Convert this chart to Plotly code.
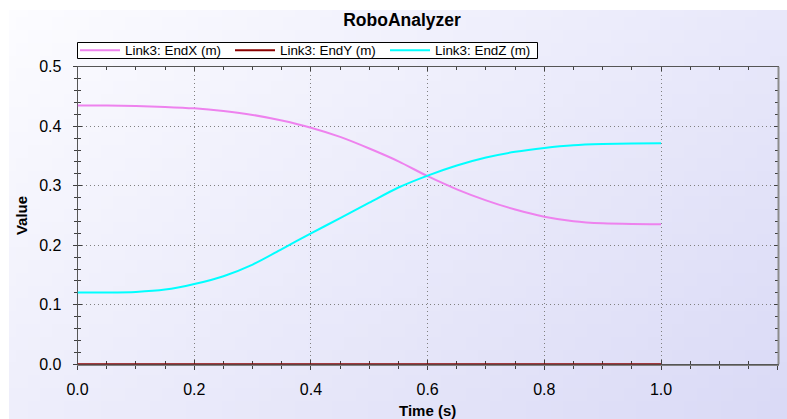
import zlib, struct, base64
import plotly.graph_objects as go

# ---- data ----
time_s = [0.00, 0.05, 0.10, 0.15, 0.20, 0.25, 0.30, 0.35, 0.40, 0.45, 0.50,
          0.55, 0.60, 0.65, 0.70, 0.75, 0.80, 0.85, 0.90, 0.95, 1.00]
end_x = [0.435, 0.4348, 0.434, 0.4325, 0.430, 0.4255, 0.419, 0.4095, 0.3975, 0.382, 0.3625,
         0.341, 0.316, 0.294, 0.2755, 0.260, 0.248, 0.2405, 0.237, 0.2358, 0.2355]
end_y = [0.0] * 21
end_z = [0.1205, 0.1205, 0.1215, 0.1255, 0.135, 0.148, 0.1675, 0.1935, 0.220, 0.2455, 0.2715,
         0.297, 0.317, 0.334, 0.3475, 0.357, 0.3635, 0.368, 0.370, 0.371, 0.3712]
series_names = ["Link3: EndX (m)", "Link3: EndY (m)", "Link3: EndZ (m)"]
x_ticks = [0.0, 0.2, 0.4, 0.6, 0.8, 1.0, 1.2]
y_ticks = [0.0, 0.1, 0.2, 0.3, 0.4, 0.5]

W, H = 787, 419


def gradient_png(w, h):
    rows = []
    for j in range(h):
        v = j / (h - 1)
        row = bytearray([0])
        for i in range(w):
            u = i / (w - 1)
            r = int(round(252 - 20 * u - 14 * v))
            b = int(round(255 - 5 * u - 4 * v))
            row += bytes([r, r, b])
        rows.append(bytes(row))
    raw = b"".join(rows)

    def chunk(t, d):
        c = struct.pack(">I", len(d)) + t + d
        return c + struct.pack(">I", zlib.crc32(t + d) & 0xffffffff)
    png = b"\x89PNG\r\n\x1a\n" + chunk(b"IHDR", struct.pack(">IIBBBBB", w, h, 8, 2, 0, 0, 0))
    png += chunk(b"IDAT", zlib.compress(raw, 9)) + chunk(b"IEND", b"")
    return "data:image/png;base64," + base64.b64encode(png).decode()


FONT = "Liberation Sans, Arial, sans-serif"
x0, x1 = 77.6 / W, 777.7 / W
y0, y1 = (H - 364.3) / H, (H - 66.7) / H

fig = go.Figure()
fig.add_trace(go.Scatter(x=time_s, y=end_x, mode="lines", name=series_names[0],
                         line=dict(color="#EE82EE", width=2, shape="spline", smoothing=0.8)))
fig.add_trace(go.Scatter(x=time_s, y=end_y, mode="lines", name=series_names[1],
                         line=dict(color="#8B0000", width=2), cliponaxis=False,
                         xaxis="x2", yaxis="y2"))
fig.add_trace(go.Scatter(x=time_s, y=end_z, mode="lines", name=series_names[2],
                         line=dict(color="#00FFFF", width=2, shape="spline", smoothing=0.8)))

grid = dict(showgrid=True, gridcolor="#808080", griddash="1px,3px", gridwidth=1)
tick_font = dict(family=FONT, size=16, color="#000")
title_font = dict(family=FONT, size=15, color="#000")
AX = "#555555"

fig.update_layout(
    width=W, height=H, margin=dict(l=0, r=0, t=0, b=0, autoexpand=False),
    paper_bgcolor="white", plot_bgcolor="white",
    font=dict(family=FONT, color="#000"),
    title=dict(text="<b>RoboAnalyzer</b>", x=402 / W, xref="container", xanchor="center",
               y=1 - 19.5 / H, yref="container", yanchor="middle",
               font=dict(family=FONT, size=17.5, color="#000")),
    legend=dict(orientation="h", x=75 / W, xanchor="left", y=1 - 50.5 / H, yanchor="middle",
                bgcolor="rgba(0,0,0,0)", borderwidth=0,
                font=dict(family=FONT, size=13.4, color="#000"),
                entrywidth=100, entrywidthmode="pixels", itemwidth=40),
    shapes=[dict(type="rect", xref="paper", yref="paper",
                 x0=77.5 / W, x1=537.5 / W, y0=1 - 58.5 / H, y1=1 - 42.5 / H,
                 fillcolor="white", line=dict(color="#000", width=1), layer="above"),
            dict(type="line", xref="paper", yref="paper",
                 x0=(777.7 + 0.8) / W, x1=(777.7 + 0.8) / W, y0=y0, y1=y1,
                 line=dict(color="#8c8c8c", width=2), layer="above")],
    xaxis=dict(domain=[x0, x1], range=[0, 1.2], tickvals=x_ticks, tickformat=".1f",
               ticks="outside", ticklen=4, tickcolor="#404040", automargin=False,
               minor=dict(dtick=0.05, ticks="outside", ticklen=3, tickcolor="#404040", showgrid=False),
               showline=True, linecolor="#808080", linewidth=1.5, mirror=False, zeroline=False,
               tickfont=tick_font, ticklabelstandoff=6,
               title=dict(text="<b>Time (s)</b>", font=title_font, standoff=8),
               layer="below traces", **grid),
    yaxis=dict(domain=[y0, y1], range=[0, 0.5], tickvals=y_ticks, tickformat=".1f",
               ticks="outside", ticklen=4, tickcolor="#404040", automargin=False,
               minor=dict(dtick=0.02, ticks="outside", ticklen=3, tickcolor="#404040", showgrid=False),
               showline=True, linecolor=AX, linewidth=1, mirror=False, zeroline=False,
               tickfont=tick_font, ticklabelstandoff=8,
               title=dict(text="<b>Value</b>", font=title_font, standoff=7),
               layer="below traces", **grid),
    xaxis2=dict(domain=[x0, x1], range=[0, 1.2], overlaying="x", anchor="y2", side="bottom",
                tickvals=x_ticks, ticks="inside", ticklen=4, tickcolor="#404040", automargin=False,
                minor=dict(dtick=0.05, ticks="inside", ticklen=3, tickcolor="#404040", showgrid=False),
                showticklabels=False, showgrid=False, zeroline=False,
                showline=True, linecolor=AX, linewidth=1, mirror="ticks", layer="below traces"),
    yaxis2=dict(domain=[y0, y1], range=[0, 0.5], overlaying="y", anchor="x2", side="left",
                tickvals=y_ticks, ticks="inside", ticklen=4, tickcolor="#404040", automargin=False,
                minor=dict(dtick=0.02, ticks="inside", ticklen=3, tickcolor="#404040", showgrid=False),
                showticklabels=False, showgrid=False, zeroline=False,
                showline=True, linecolor=AX, linewidth=1, mirror="ticks", layer="below traces"),
    images=[dict(source=gradient_png(64, 32), xref="paper", yref="paper",
                 x=9 / W, y=1 - 10 / H, sizex=(W - 9) / W, sizey=(H - 10) / H,
                 xanchor="left", yanchor="top", sizing="stretch", layer="below")],
    showlegend=True,
)

fig.write_html("out.html", config={"displayModeBar": False},
               post_script="document.body.style.margin='0';document.body.style.overflow='hidden';")
